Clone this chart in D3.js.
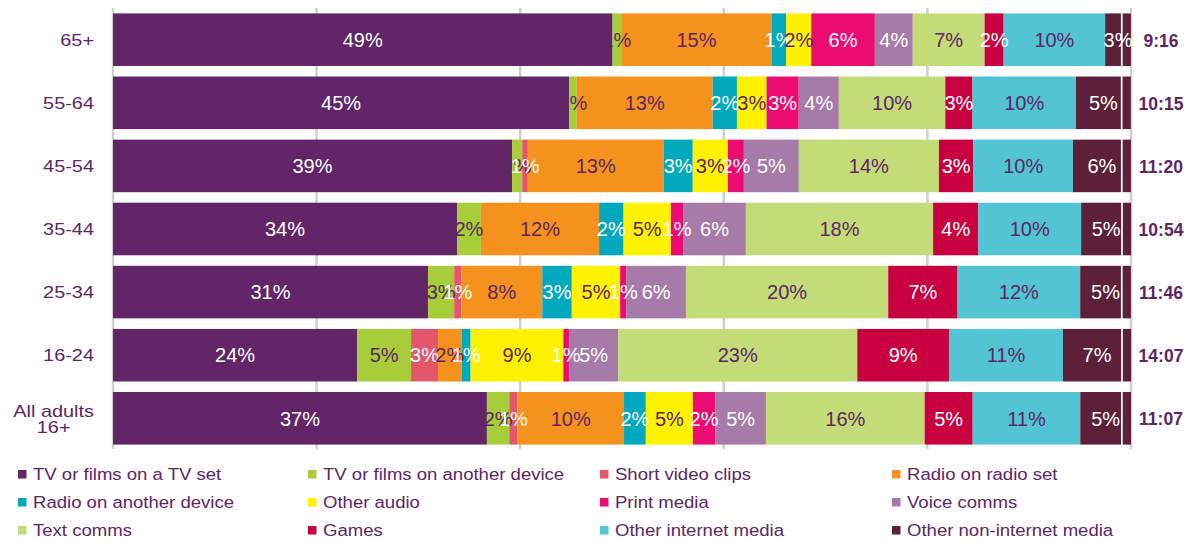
<!DOCTYPE html>
<html>
<head>
<meta charset="utf-8">
<script src="https://cdn.jsdelivr.net/npm/d3@7"></script>
<style>
  html, body { margin: 0; padding: 0; background: #ffffff; }
  svg { display: block; font-family: "Liberation Sans", Arial, Helvetica, sans-serif; }
</style>
</head>
<body>
<svg id="chart" width="1194" height="543"></svg>
<script>
// ---------- data (share of time, %) ----------
const categories = ["65+", "55-64", "45-54", "35-44", "25-34", "16-24", "All adults\n16+"];
const totals = ["9:16", "10:15", "11:20", "10:54", "11:46", "14:07", "11:07"];

const tvSet            = [49.07, 44.80, 39.20, 33.79, 30.94, 23.98, 36.73];
const tvOtherDevice    = [0.85, 0.76, 1.00, 2.35, 2.58, 5.30, 2.20];
const shortVideoClips  = [0, 0, 0.55, 0, 0.69, 2.65, 0.80];
const radioSet         = [14.80, 13.35, 13.33, 11.61, 7.96, 2.31, 10.47];
const radioOtherDevice = [1.41, 2.38, 2.87, 2.40, 2.90, 0.89, 2.14];
const otherAudio       = [2.46, 2.91, 3.45, 4.65, 4.75, 9.11, 4.62];
const printMedia       = [6.25, 3.16, 1.57, 1.20, 0.62, 0.55, 2.20];
const voiceComms       = [3.72, 3.94, 5.40, 6.17, 5.84, 4.84, 4.98];
const textComms        = [7.06, 10.46, 13.76, 18.39, 19.87, 23.48, 15.59];
const games            = [1.87, 2.67, 3.39, 4.45, 6.81, 9.01, 4.72];
const otherInternet    = [9.97, 10.16, 9.78, 10.09, 12.05, 11.20, 10.57];
const otherNonInternet = [1.55, 4.41, 4.71, 3.93, 4.00, 5.71, 4.00];
// last sliver of "Other non-internet media", drawn split off by a thin white gap
const otherNonInternetTail = [0.98, 0.98, 0.98, 0.98, 0.98, 0.98, 0.98];

const seriesNames = [
  "TV or films on a TV set", "TV or films on another device", "Short video clips", "Radio on radio set",
  "Radio on another device", "Other audio", "Print media", "Voice comms",
  "Text comms", "Games", "Other internet media", "Other non-internet media"
];
const seriesValues = [tvSet, tvOtherDevice, shortVideoClips, radioSet, radioOtherDevice, otherAudio,
  printMedia, voiceComms, textComms, games, otherInternet, otherNonInternet];
const seriesColors = ["#622567", "#a8cd3a", "#e4576b", "#f5921e", "#00a9bd", "#fff200",
  "#ec0b73", "#a67ba8", "#c3dc78", "#c8003f", "#53c4d3", "#5c2139"];
const labelColors = ["#ffffff", "#5e2565", "#ffffff", "#5e2565", "#ffffff", "#5e2565",
  "#ffffff", "#ffffff", "#5e2565", "#ffffff", "#5e2565", "#ffffff"];
const gridTicks = [0, 20, 40, 60, 80, 100];

// ---------- build table ----------
const keys = seriesNames.concat(["tail"]);
const table = categories.map((c, i) => {
  const row = { category: c };
  seriesNames.forEach((s, j) => { row[s] = seriesValues[j][i]; });
  row.tail = otherNonInternetTail[i];
  return row;
});
const colorOf = d3.scaleOrdinal().domain(keys).range(seriesColors.concat(["#5c2139"]));
const labelColorOf = d3.scaleOrdinal().domain(seriesNames).range(labelColors);

const stacked = d3.stack().keys(keys)(table);

// ---------- scales ----------
const TEXT = "#5e2565";
const svg = d3.select("#chart");
const x = d3.scaleLinear().domain([0, 100]).range([113, 1131]);
const y = d3.scaleBand().domain(categories).range([8.5, 449.5]).paddingInner(0.167).paddingOuter(0.078);

// ---------- grid ----------
svg.append("g").selectAll("line").data(gridTicks).join("line")
  .attr("x1", d => x(d)).attr("x2", d => x(d))
  .attr("y1", 8).attr("y2", 449)
  .attr("stroke", "#d0d0d0").attr("stroke-width", 2.5);

// ---------- bars ----------
const layers = svg.append("g").selectAll("g").data(stacked).join("g")
  .attr("fill", d => colorOf(d.key));
layers.selectAll("rect").data(d => d.map(p => ({ p, key: d.key }))).join("rect")
  .attr("x", d => x(d.p[0]) + (d.key === "tail" ? 1.7 : 0))
  .attr("width", d => Math.max(0, x(d.p[1]) - x(d.p[0]) - (d.key === "tail" ? 1.7 : 0)))
  .attr("y", d => y(d.p.data.category))
  .attr("height", y.bandwidth());

// ---------- segment labels ----------
const labelG = svg.append("g").attr("font-size", 20).attr("text-anchor", "middle");
stacked.forEach(layer => {
  if (layer.key === "tail") return;
  layer.forEach(p => {
    const row = p.data;
    const v = row[layer.key];
    if (!(v > 0)) return;
    let x0 = p[0], x1 = p[1], val = v;
    if (layer.key === "Other non-internet media") {
      x1 = p[1] + row.tail;
      val = v + row.tail;
    }
    labelG.append("text")
      .attr("x", (x(x0) + x(x1)) / 2)
      .attr("y", y(row.category) + y.bandwidth() / 2 + 7.3)
      .attr("fill", labelColorOf(layer.key))
      .text(Math.round(val) + "%");
  });
});

// ---------- category labels (left) ----------
const catG = svg.append("g");
categories.forEach(c => {
  const lines = c.split("\n");
  const cy = y(c) + y.bandwidth() / 2;
  const g = catG.append("g")
    .attr("transform", `translate(94,${cy}) scale(1.17,1)`);
  const lh = 16;
  const texts = lines.map((ln, k) => g.append("text")
    .attr("x", 0)
    .attr("y", 6.2 + (k - (lines.length - 1) / 2) * lh)
    .attr("text-anchor", "end")
    .attr("font-size", 17)
    .attr("fill", TEXT)
    .text(ln));
  if (lines.length > 1) {
    const maxW = d3.max(texts, t => t.node().getComputedTextLength());
    texts.forEach(t => t.attr("text-anchor", "middle").attr("x", -maxW / 2));
  }
});

// ---------- totals (right) ----------
svg.append("g").selectAll("text").data(categories).join("text")
  .attr("x", 1161)
  .attr("y", d => y(d) + y.bandwidth() / 2 + 7)
  .attr("text-anchor", "middle")
  .attr("font-size", 17.5)
  .attr("font-weight", "bold")
  .attr("fill", TEXT)
  .text((d, i) => totals[i]);

// ---------- legend ----------
const legendColX = [18, 308, 600, 892];
const legendRowY = [480, 508, 536];
const lg = svg.append("g");
seriesNames.forEach((s, i) => {
  const cx = legendColX[i % 4];
  const by = legendRowY[Math.floor(i / 4)];
  lg.append("rect")
    .attr("x", cx).attr("y", by - 10)
    .attr("width", 8.5).attr("height", 8.5)
    .attr("fill", colorOf(s));
  lg.append("g")
    .attr("transform", `translate(${cx + 15},${by}) scale(1.16,1)`)
    .append("text")
    .attr("font-size", 16)
    .attr("fill", TEXT)
    .text(s);
});
</script>
</body>
</html>
